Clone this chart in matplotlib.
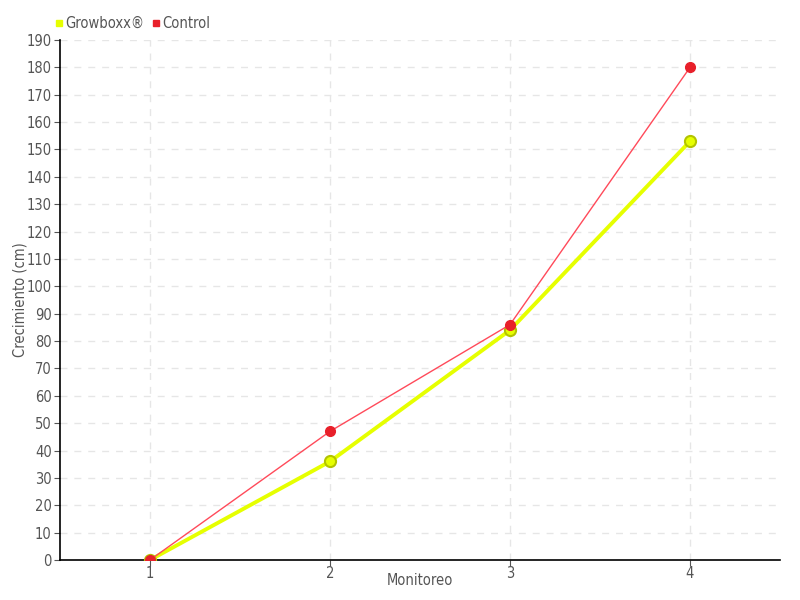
import matplotlib.pyplot as plt
from matplotlib.lines import Line2D

plt.rcParams['font.family'] = ['DejaVu Sans']
plt.rcParams['font.stretch'] = 'condensed'

monitoreo = [1, 2, 3, 4]
growboxx = [0, 36, 84, 153]
control = [0, 47, 86, 180]

fig = plt.figure(figsize=(8, 6), dpi=100)
ax = fig.add_axes([0.075, 0.0667, 0.9, 0.8666])

ax.plot(monitoreo, growboxx, color='#e6ff00', linewidth=2.8, marker='o',
        markersize=8, markerfacecolor='#e6ff00', markeredgecolor='#b3c400',
        markeredgewidth=1.5, zorder=3)
ax.plot(monitoreo, control, color='#ff4a5a', linewidth=1, marker='o',
        markersize=7, markerfacecolor='#e8202a', markeredgecolor='#e8202a',
        zorder=4)

ax.set_xlim(0.5, 4.5)
ax.set_ylim(0, 190)
ax.set_xticks(monitoreo)
ax.set_yticks(range(0, 191, 10))
ax.grid(True, color='#e6e6e6', linestyle=(0, (5, 5)), linewidth=1)
ax.set_axisbelow(True)
for s in ['top', 'right']:
    ax.spines[s].set_visible(False)
ax.spines['left'].set_linewidth(1.2)
ax.spines['bottom'].set_linewidth(1.2)
ax.tick_params(axis='y', length=4, colors='#555555', labelsize=10.5, pad=2)
ax.tick_params(axis='x', length=4, colors='#555555', labelsize=10.5, pad=0)

ax.set_xlabel('Monitoreo', color='#555555', fontsize=10.5, va='center')
ax.set_ylabel('Crecimiento (cm)', color='#555555', fontsize=10.5, va='center')
ax.xaxis.set_label_coords(0.5, -0.040)
ax.yaxis.set_label_coords(-0.056, 0.5)

handles = [Line2D([], [], linestyle='none', marker='s', markersize=5,
                  color='#e6ff00'),
           Line2D([], [], linestyle='none', marker='s', markersize=5,
                  color='#e8202a')]
fig.legend(handles, ['Growboxx®', 'Control'], loc='upper left',
           bbox_to_anchor=(0.053, 0.995), ncol=2, frameon=False,
           handlelength=0.5, handletextpad=0.2, columnspacing=0.5,
           labelcolor='#555555', fontsize=10.5)

fig.savefig('out.png', dpi=100)
